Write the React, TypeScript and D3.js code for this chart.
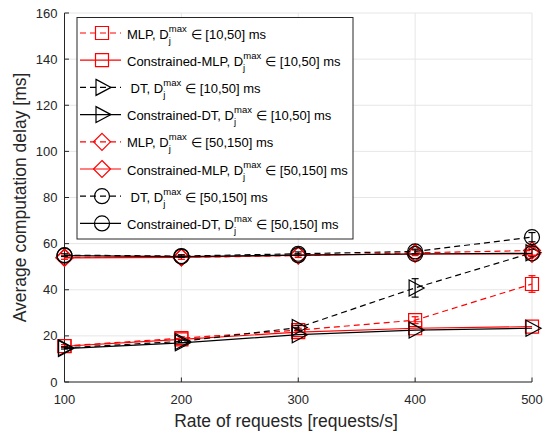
import React from "react";
import * as d3 from "d3";

const xVals = [100, 200, 300, 400, 500];
const xTicks = [100, 200, 300, 400, 500];
const yTicks = [0, 20, 40, 60, 80, 100, 120, 140, 160];

const mlp10 = [15.6, 19.0, 22.5, 26.8, 42.5];
const mlp10Err = [0.6, 0.6, 0.8, 1.5, 3.6];
const cmlp10 = [15.5, 18.5, 21.6, 23.3, 24.0];
const dt10 = [14.8, 17.6, 23.6, 40.8, 56.0];
const dt10Err = [0.5, 0.5, 1.0, 4.0, 1.5];
const cdt10 = [14.5, 17.0, 20.5, 22.5, 23.3];
const mlp50 = [54.0, 54.0, 54.8, 56.0, 57.0];
const mlp50Err = [0.8, 0.8, 0.8, 1.2, 2.0];
const cmlp50 = [53.8, 54.0, 55.0, 55.5, 55.5];
const dt50 = [55.0, 54.6, 55.6, 56.6, 62.8];
const dt50Err = [0.6, 0.6, 0.8, 1.0, 2.0];
const cdt50 = [54.8, 54.4, 55.0, 55.5, 55.8];

type Marker = "square" | "triangle" | "diamond" | "circle";
interface Series {
  name: string;
  range: string;
  values: number[];
  err?: number[];
  color: string;
  dashed: boolean;
  marker: Marker;
}

const series: Series[] = [
  { name: "MLP", range: "[10,50]", values: mlp10, err: mlp10Err, color: "#ff0000", dashed: true, marker: "square" },
  { name: "Constrained-MLP", range: "[10,50]", values: cmlp10, color: "#ff0000", dashed: false, marker: "square" },
  { name: " DT", range: "[10,50]", values: dt10, err: dt10Err, color: "#000000", dashed: true, marker: "triangle" },
  { name: "Constrained-DT", range: "[10,50]", values: cdt10, color: "#000000", dashed: false, marker: "triangle" },
  { name: "MLP", range: "[50,150]", values: mlp50, err: mlp50Err, color: "#ff0000", dashed: true, marker: "diamond" },
  { name: "Constrained-MLP", range: "[50,150]", values: cmlp50, color: "#ff0000", dashed: false, marker: "diamond" },
  { name: " DT", range: "[50,150]", values: dt50, err: dt50Err, color: "#000000", dashed: true, marker: "circle" },
  { name: "Constrained-DT", range: "[50,150]", values: cdt50, color: "#000000", dashed: false, marker: "circle" },
];

const FONT = "'Liberation Sans', Arial, Helvetica, sans-serif";
const AX = "#262626";

function markerPath(m: Marker, cx: number, cy: number): string {
  switch (m) {
    case "square": {
      const h = 6.5;
      return `M${cx - h},${cy - h}H${cx + h}V${cy + h}H${cx - h}Z`;
    }
    case "triangle": {
      return `M${cx - 6},${cy - 8}L${cx + 9},${cy}L${cx - 6},${cy + 8}Z`;
    }
    case "diamond": {
      const h = 8.5;
      return `M${cx},${cy - h}L${cx + h},${cy}L${cx},${cy + h}L${cx - h},${cy}Z`;
    }
    case "circle": {
      const r = 7.5;
      return `M${cx - r},${cy}A${r},${r} 0 1,0 ${cx + r},${cy}A${r},${r} 0 1,0 ${cx - r},${cy}Z`;
    }
  }
}

export default function App() {
  const W = 546;
  const H = 436;
  const left = 64.5;
  const right = 532;
  const top = 13;
  const bottom = 382;

  const x = d3.scaleLinear().domain([100, 500]).range([left, right]);
  const y = d3.scaleLinear().domain([0, 160]).range([bottom, top]);

  const line = d3
    .line<number>()
    .x((_, i) => x(xVals[i]))
    .y((d) => y(d));

  const legX = 77;
  const legY = 17.5;
  const legW = 276;
  const legH = 221.5;
  const rowY = (i: number) => 33 + i * 27.2;

  return (
    <svg width={W} height={H} style={{ position: "absolute", left: 0, top: 0, background: "#fff" }} fontFamily={FONT}>
      <rect x={0} y={0} width={W} height={H} fill="#fff" />
      {/* grid */}
      <g stroke="#e6e6e6" strokeWidth={1}>
        {xTicks.map((t) => (
          <line key={"gx" + t} x1={x(t)} x2={x(t)} y1={top} y2={bottom} />
        ))}
        {yTicks.map((t) => (
          <line key={"gy" + t} x1={left} x2={right} y1={y(t)} y2={y(t)} />
        ))}
      </g>
      {/* axes */}
      <g stroke={AX} strokeWidth={1} fill="none">
        <line x1={left} x2={left} y1={top} y2={bottom} />
        <line x1={left} x2={right} y1={bottom} y2={bottom} />
        {yTicks.map((t) => (
          <line key={"ty" + t} x1={left} x2={left + 4.5} y1={y(t)} y2={y(t)} />
        ))}
        {xTicks.map((t) => (
          <line key={"tx" + t} x1={x(t)} x2={x(t)} y1={bottom} y2={bottom - 4.5} />
        ))}
      </g>
      <g fill={AX} fontSize={13}>
        {yTicks.map((t) => (
          <text key={"ly" + t} x={left - 7} y={y(t) + 4.5} textAnchor="end">
            {t}
          </text>
        ))}
        {xTicks.map((t) => (
          <text key={"lx" + t} x={x(t)} y={bottom + 21.5} textAnchor="middle">
            {t}
          </text>
        ))}
      </g>
      <text x={286} y={427} textAnchor="middle" fontSize={17.5} fill={AX}>
        Rate of requests [requests/s]
      </text>
      <text
        transform={`translate(25.5,${(top + bottom) / 2}) rotate(-90)`}
        textAnchor="middle"
        fontSize={17.5}
        fill={AX}
      >
        Average computation delay [ms]
      </text>

      {/* series */}
      {series.map((s, si) => (
        <g key={"s" + si} stroke={s.color} fill="none" strokeWidth={1.2}>
          <path d={line(s.values) || ""} strokeDasharray={s.dashed ? "6,4" : undefined} />
          {s.err &&
            s.values.map((v, i) => {
              const e = s.err![i];
              const cx = x(xVals[i]);
              return (
                <g key={"e" + i}>
                  <line x1={cx} x2={cx} y1={y(v - e)} y2={y(v + e)} />
                  <line x1={cx - 3.5} x2={cx + 3.5} y1={y(v - e)} y2={y(v - e)} />
                  <line x1={cx - 3.5} x2={cx + 3.5} y1={y(v + e)} y2={y(v + e)} />
                </g>
              );
            })}
          {s.values.map((v, i) => (
            <path key={"m" + i} d={markerPath(s.marker, x(xVals[i]), y(v))} />
          ))}
        </g>
      ))}

      {/* legend */}
      <rect x={legX} y={legY} width={legW} height={legH} fill="#fff" stroke={AX} strokeWidth={1} />
      {series.map((s, i) => {
        const cy = rowY(i);
        return (
          <g key={"lg" + i}>
            <g stroke={s.color} fill="none" strokeWidth={1.2}>
              <line x1={80} x2={121} y1={cy} y2={cy} strokeDasharray={s.dashed ? "6,4" : undefined} />
              <path d={markerPath(s.marker, 102, cy)} />
            </g>
            <text x={127} y={cy + 5.5} fontSize={13} fill="#000" xmlSpace="preserve" style={{ whiteSpace: "pre" }}>
              {s.name + ", D"}
              <tspan fontSize={9.5} dy={5}>j</tspan>
              <tspan fontSize={9.5} dx={-2} dy={-12}>max</tspan>
              <tspan dx={4} dy={7}>{"\u2208 " + s.range + " ms"}</tspan>
            </text>
          </g>
        );
      })}
    </svg>
  );
}
